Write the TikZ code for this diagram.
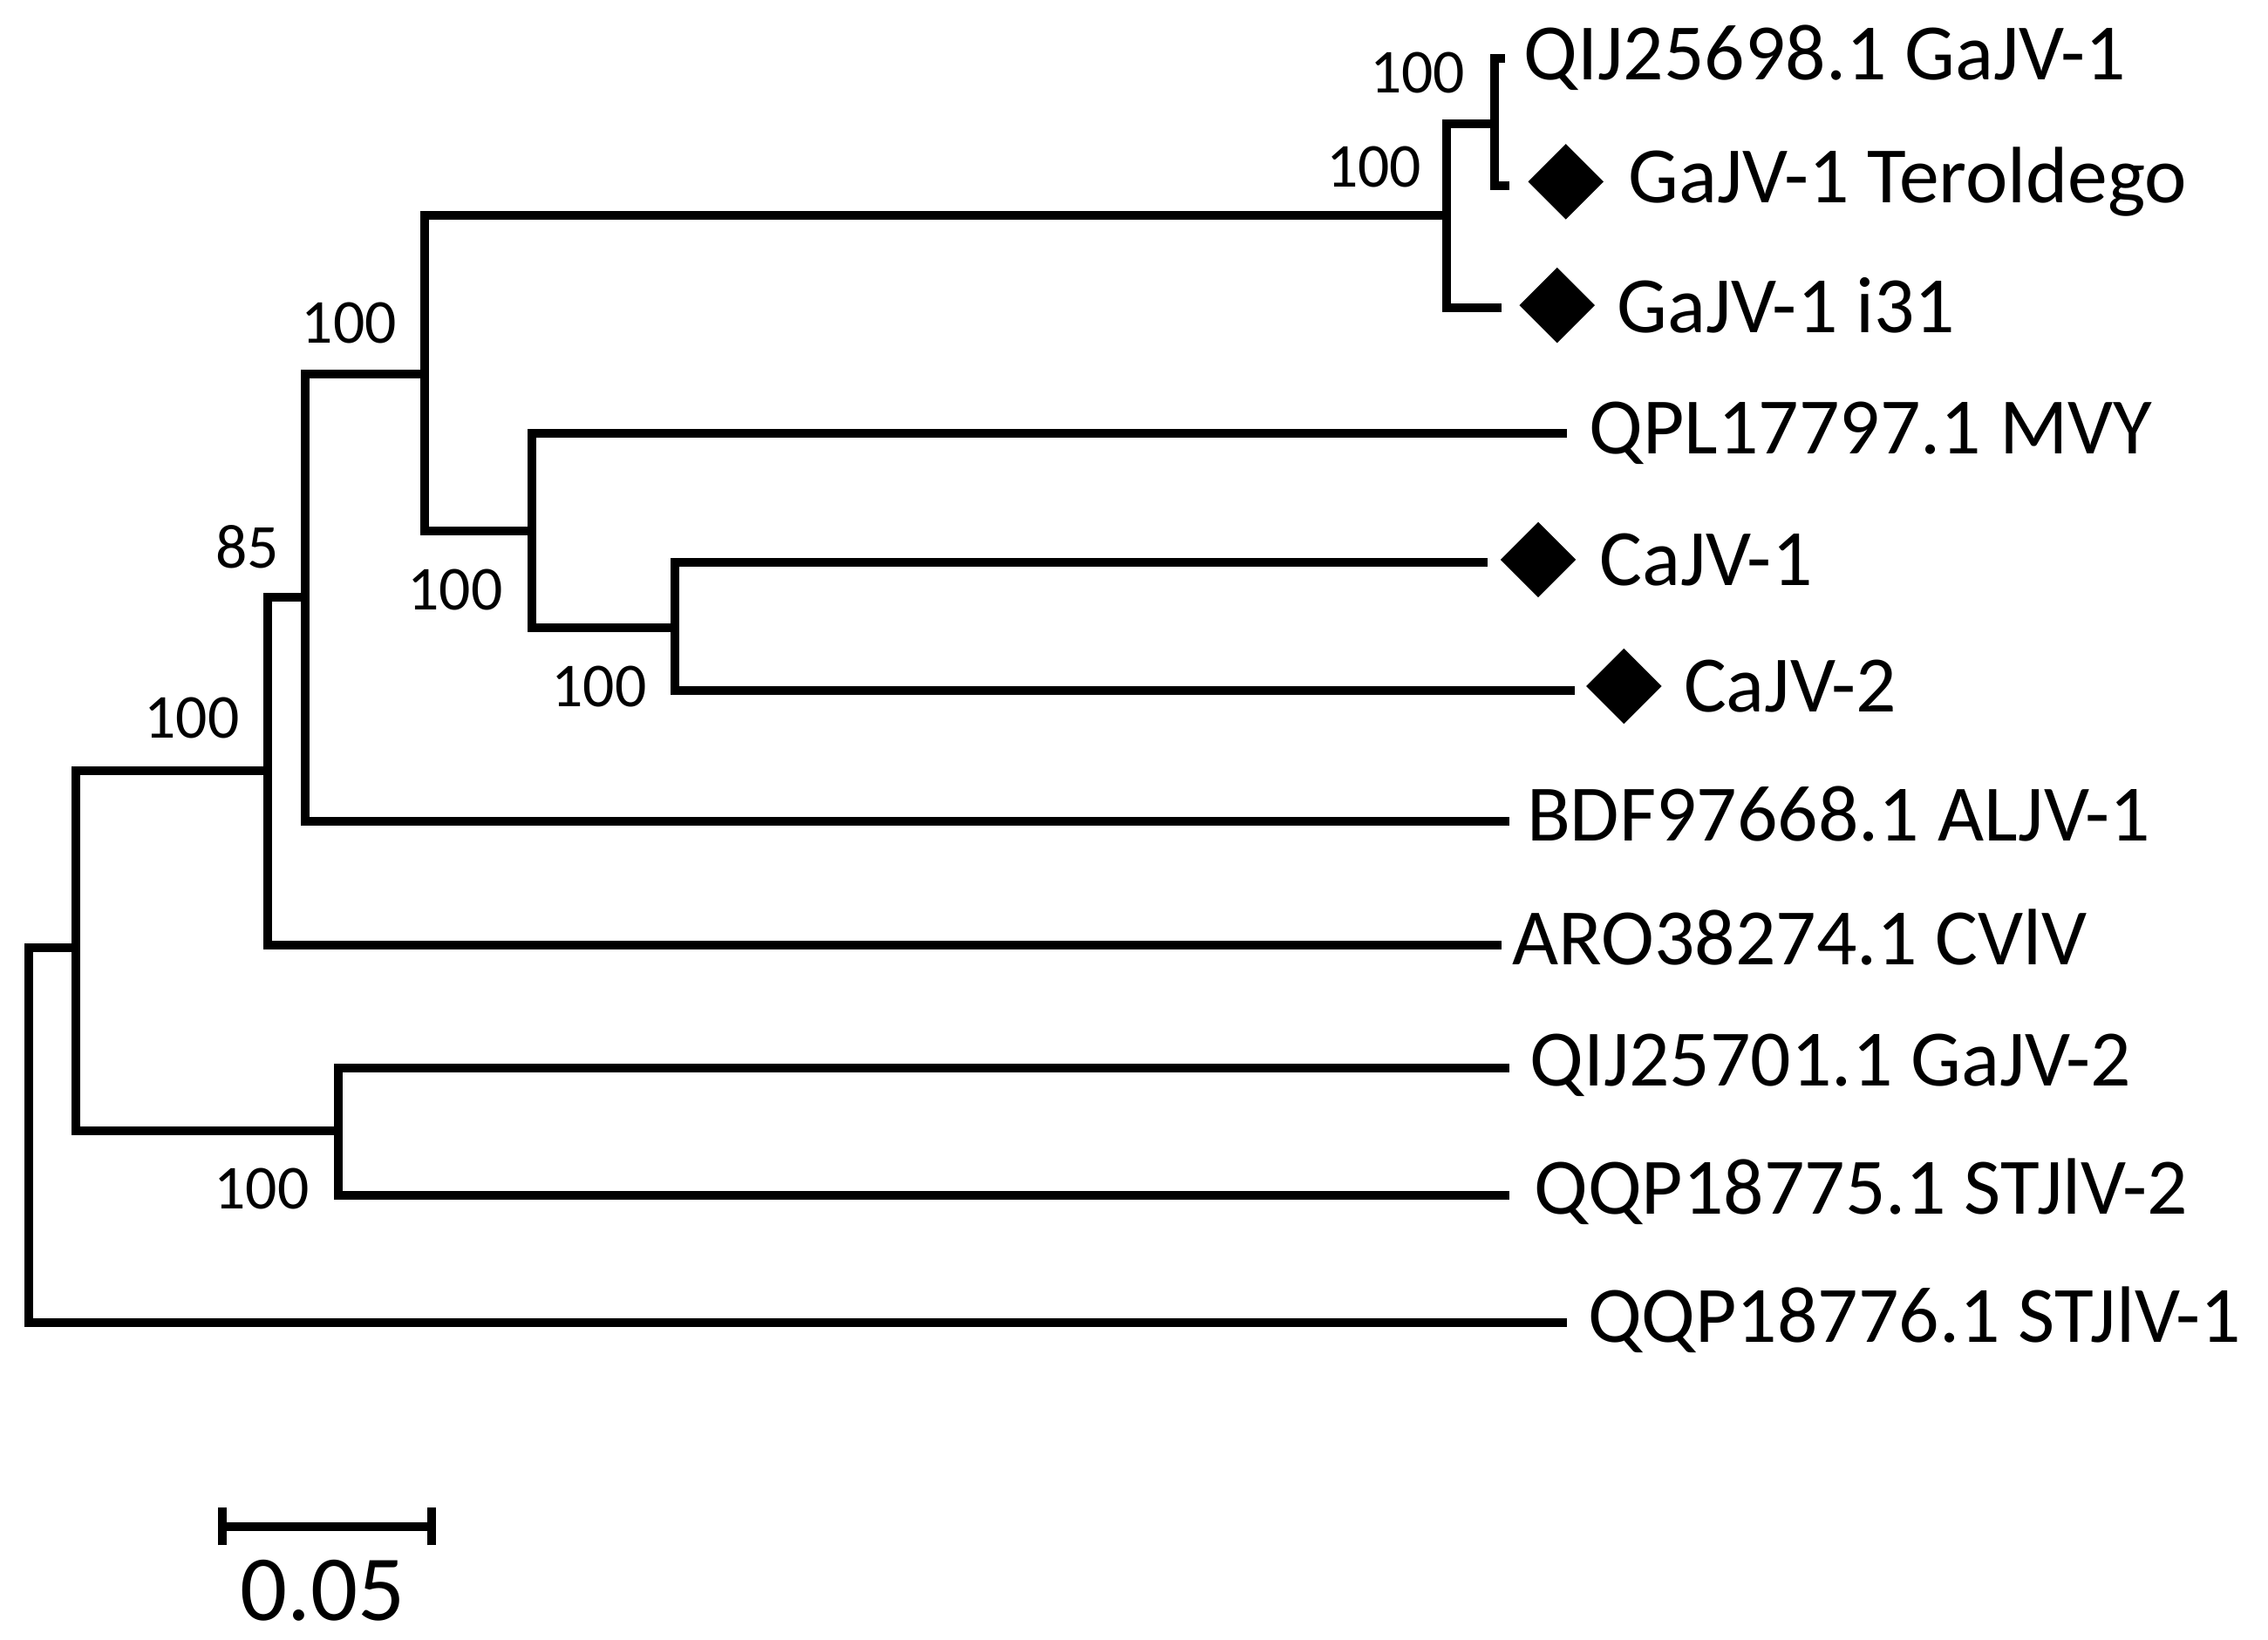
\documentclass[tikz,border=0pt]{standalone}
\usepackage{fontspec}
\setmainfont{Carlito}
\usetikzlibrary{shapes.geometric}
\begin{document}
\begin{tikzpicture}[x=1pt,y=-1pt,
  br/.style={line width=6pt,line cap=rect},
  tip/.style={anchor=west,font=\fontsize{55}{58}\selectfont,inner sep=0pt},
  bs/.style={font=\fontsize{43}{46}\selectfont,inner sep=0pt},
  dia/.style={diamond,fill=black,minimum size=52pt,inner sep=0pt}]
\useasboundingbox (0,0) rectangle (1560,1128);
% tips
\coordinate (t1) at (1032,40); \coordinate (t2) at (1035,128); \coordinate (t3) at (1030,212);
\coordinate (t4) at (1075,298); \coordinate (t5) at (1020,387); \coordinate (t6) at (1080,475);
\coordinate (t7) at (1035,565); \coordinate (t8) at (1030,650); \coordinate (t9) at (1035,735);
\coordinate (t10) at (1035,822); \coordinate (t11) at (1075,910);
% internal nodes
\coordinate (nA) at (1028,85); \coordinate (nB) at (995,148); \coordinate (nC) at (464,432);
\coordinate (nD) at (366,365); \coordinate (nE) at (292,257); \coordinate (nF) at (210,411);
\coordinate (nG) at (184,530); \coordinate (nH) at (233,778); \coordinate (nR) at (52,652);
\coordinate (root) at (20,781);
\draw[br] (nA |- t1) -- (t1) (nA |- t1) -- (nA |- t2) -- (t2);
\draw[br] (nB |- nA) -- (nA) (nB |- nA) -- (nB |- t3) -- (t3);
\draw[br] (nC |- t5) -- (t5) (nC |- t5) -- (nC |- t6) -- (t6);
\draw[br] (nD |- t4) -- (t4) (nD |- t4) -- (nD |- nC) -- (nC);
\draw[br] (nE |- nB) -- (nB) (nE |- nB) -- (nE |- nD) -- (nD);
\draw[br] (nF |- nE) -- (nE) (nF |- nE) -- (nF |- t7) -- (t7);
\draw[br] (nG |- nF) -- (nF) (nG |- nF) -- (nG |- t8) -- (t8);
\draw[br] (nH |- t9) -- (t9) (nH |- t9) -- (nH |- t10) -- (t10);
\draw[br] (nR |- nG) -- (nG) (nR |- nG) -- (nR |- nH) -- (nH);
\draw[br] (root |- nR) -- (nR) (root |- nR) -- (root |- t11) -- (t11);
% labels
\node[tip] (l1) at (1048,40) {QIJ25698.1 GaJV-1};
\node[dia] (d2) at (1077,125) {}; \node[tip] (l2) at (1120,125) {GaJV-1 Teroldego};
\node[dia] (d3) at (1071,210) {}; \node[tip] (l3) at (1112,210) {GaJV-1 i31};
\node[tip] (l4) at (1093,298) {QPL17797.1 MVY};
\node[dia] (d5) at (1058,385) {}; \node[tip] (l5) at (1100,385) {CaJV-1};
\node[dia] (d6) at (1117,472) {}; \node[tip] (l6) at (1158,472) {CaJV-2};
\node[tip] (l7) at (1050,560) {BDF97668.1 ALJV-1};
\node[tip] (l8) at (1040,645) {ARO38274.1 CVlV};
\node[tip] (l9) at (1052,733) {QIJ25701.1 GaJV-2};
\node[tip] (l10) at (1055,820) {QQP18775.1 STJlV-2};
\node[tip] (l11) at (1092,908) {QQP18776.1 STJlV-1};
% bootstrap
\node[bs] (b1) at (975,50) {100};
\node[bs] (b2) at (945,115) {100};
\node[bs] (b3) at (240,222) {100};
\node[bs] (b4) at (313,406) {100};
\node[bs] (b5) at (412,472) {100};
\node[bs] (b6) at (170,376) {85};
\node[bs] (b7) at (132,494) {100};
\node[bs] (b8) at (180,818) {100};
% scale bar
\coordinate (s1) at (153,1050); \coordinate (s2) at (297,1050);
\draw[line width=6pt] (s1) -- (s2);
\draw[line width=6pt] ([yshift=-13]s1) -- ([yshift=13]s1) ([yshift=-13]s2) -- ([yshift=13]s2);
\node[font=\fontsize{64}{68}\selectfont,inner sep=0pt] (sl) at (222,1094) {0.05};
\end{tikzpicture}
\end{document}
